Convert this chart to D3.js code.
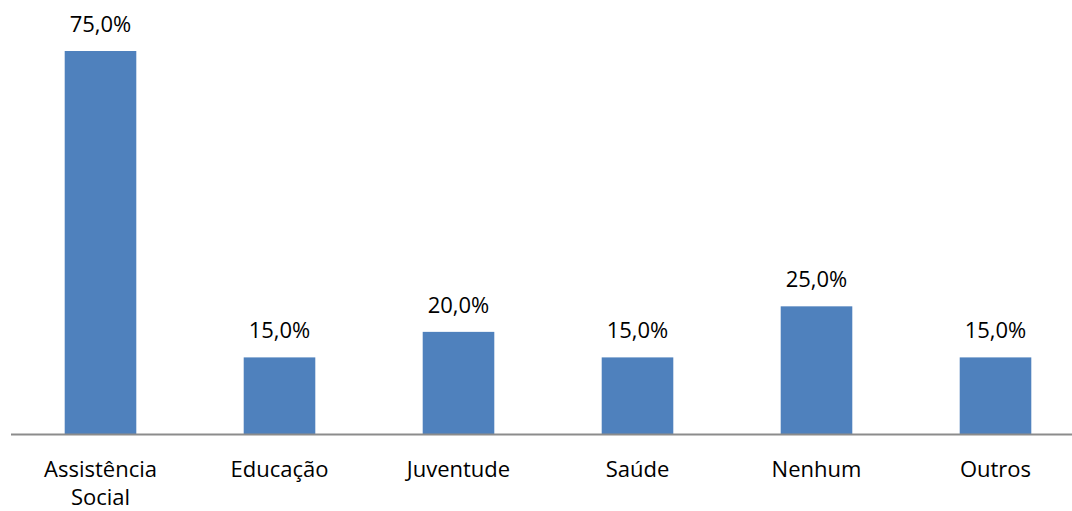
<!DOCTYPE html>
<html>
<head>
<meta charset="utf-8">
<script src="https://cdn.jsdelivr.net/npm/d3@7"></script>
<style>
  body { margin: 0; background: #fff; }
  svg { display: block; font-family: "Open Sans", Lato, sans-serif; }
</style>
</head>
<body>
<svg width="1072" height="511"></svg>
<script>
// chart data
var categories = [["Assistência", "Social"], ["Educação"], ["Juventude"], ["Saúde"], ["Nenhum"], ["Outros"]]
var values = [75.0, 15.0, 20.0, 15.0, 25.0, 15.0]

var svg = d3.select("svg")
var baseline = 434

var x = d3.scaleBand()
    .domain(d3.range(categories.length))
    .range([11, 1085])
    .paddingInner(0.6)
    .paddingOuter(0.3)

var y = d3.scaleLinear()
    .domain([0, 75])
    .range([baseline, 51])

// bars
svg.selectAll("rect.bar")
    .data(values)
    .enter().append("rect")
    .attr("class", "bar")
    .attr("x", function (d, i) { return x(i) })
    .attr("y", function (d) { return y(d) })
    .attr("width", x.bandwidth())
    .attr("height", function (d) { return baseline - y(d) })
    .style("fill", "#4f81bd")

// value labels
svg.selectAll("text.val")
    .data(values)
    .enter().append("text")
    .attr("class", "val")
    .attr("x", function (d, i) { return x(i) + x.bandwidth() / 2 })
    .attr("y", function (d) { return y(d) - 19 })
    .attr("text-anchor", "middle")
    .style("font-size", "22px")
    .style("fill", "#000")
    .text(function (d) { return d.toFixed(1).replace(".", ",") + "%" })

// x axis line
svg.append("line")
    .attr("x1", 11).attr("x2", 1072)
    .attr("y1", baseline + 0.5).attr("y2", baseline + 0.5)
    .style("stroke", "#8c8c8c")
    .style("stroke-width", 2)

// category labels
var cat = svg.selectAll("text.cat")
    .data(categories)
    .enter().append("text")
    .attr("class", "cat")
    .attr("text-anchor", "middle")
    .style("font-size", "22px")
    .style("fill", "#000")

cat.selectAll("tspan")
    .data(function (d, i) { return d.map(function (s) { return { s: s, i: i } }) })
    .enter().append("tspan")
    .attr("x", function (d) { return x(d.i) + x.bandwidth() / 2 })
    .attr("y", function (d, j) { return 477 + j * 28 })
    .text(function (d) { return d.s })
</script>
</body>
</html>
